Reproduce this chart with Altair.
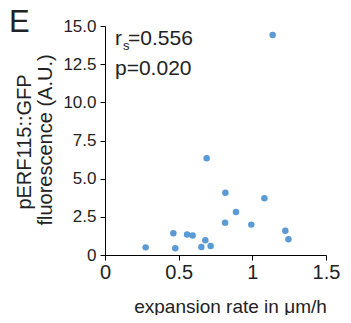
import altair as alt
import pandas as pd

rate = [1.138, 0.690, 0.817, 1.082, 0.889, 0.815, 0.993, 1.224, 1.245,
        0.464, 0.557, 0.595, 0.681, 0.717, 0.654, 0.276, 0.477]
fluor = [14.41, 6.33, 4.08, 3.71, 2.82, 2.12, 1.99, 1.59, 1.03,
         1.42, 1.35, 1.27, 0.96, 0.59, 0.52, 0.50, 0.44]
x_ticks = [0, 0.5, 1, 1.5]
y_ticks = [0, 2.5, 5, 7.5, 10, 12.5, 15]
y_title = ["pERF115::GFP", "fluorescence (A.U.)"]

df = pd.DataFrame({"rate": rate, "fluor": fluor})
FONT = "Liberation Sans"

points = alt.Chart(df).mark_circle(size=42, color="#5b9bd5", opacity=1).encode(
    x=alt.X("rate:Q",
            scale=alt.Scale(domain=[0, 1.5], nice=False),
            axis=alt.Axis(values=x_ticks, title="expansion rate in μm/h",
                          labelExpr="datum.value == 0 ? '0' : format(datum.value, '')",
                          grid=False, domainColor="black", tickColor="black",
                          tickSize=5, labelFontSize=20, labelPadding=2,
                          labelColor="#222", labelFont=FONT,
                          titleFont=FONT, titleFontSize=19, titleFontWeight="normal",
                          titleColor="#222", titleX=125, titleY=57,
                          titleBaseline="alphabetic", labelFlush=False)),
    y=alt.Y("fluor:Q",
            scale=alt.Scale(domain=[0, 15], nice=False),
            axis=alt.Axis(values=y_ticks, title=None,
                          labelExpr="datum.value == 0 ? '0' : format(datum.value, '.1f')",
                          grid=False, domainColor="black", tickColor="black",
                          tickSize=5, labelFontSize=17, labelPadding=4,
                          labelColor="#222", labelFont=FONT, labelFlush=False)),
)

def txt(s, x, y, size, baseline="alphabetic", align="left", angle=0):
    return alt.Chart(pd.DataFrame({"t": [s]})).mark_text(
        font=FONT, fontSize=size, color="#222", align=align, baseline=baseline,
        angle=angle
    ).encode(text="t:N", x=alt.value(x), y=alt.value(y))

ann = (txt("r", 10, 19, 21) + txt("s", 18, 24, 13) + txt("=0.556", 23, 19, 21)
       + txt("p=0.020", 10, 49, 21) + txt("E", -96, 6, 31)
       + txt(y_title[0], -80, 116, 20, baseline="middle", align="center", angle=270)
       + txt(y_title[1], -59, 114, 20, baseline="middle", align="center", angle=270))

chart = (points + ann).properties(
    width=221, height=229,
    autosize=alt.AutoSizeParams(type="none"),
    padding={"left": 97, "top": 18, "right": 17, "bottom": 60},
).configure_view(stroke=None)

chart.save("out.html", embed_options={"renderer": "svg", "actions": False})
